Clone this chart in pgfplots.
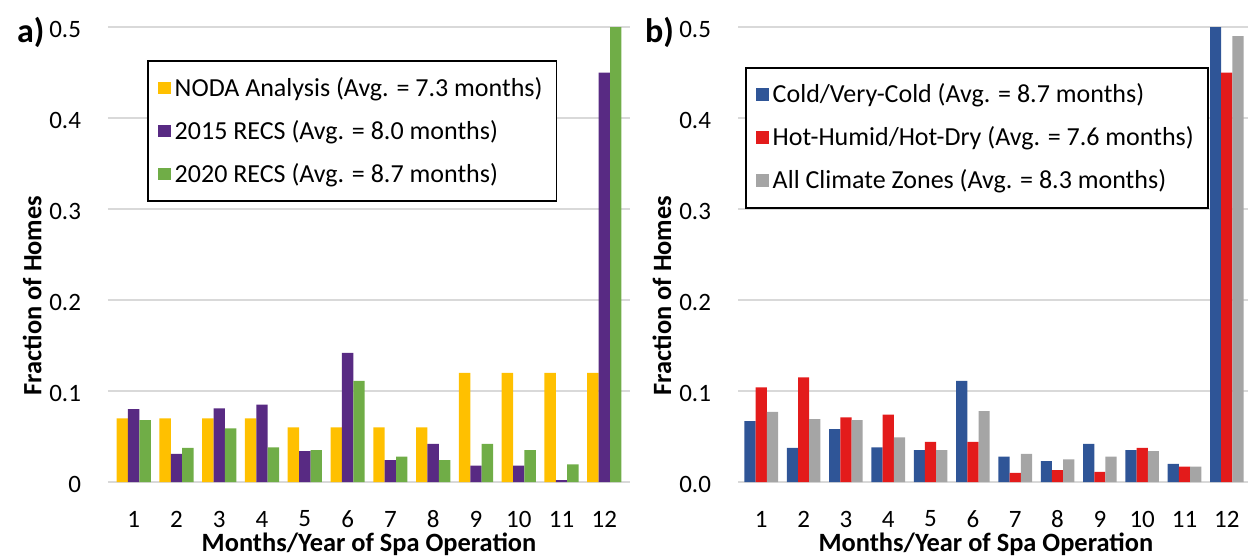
\documentclass[border=0pt]{standalone}
\usepackage{pgfplots}
\usepackage{pgfplotstable}
\pgfplotsset{compat=1.18}
\usepackage{fontspec}
\setmainfont{Carlito}
\definecolor{cY}{HTML}{FFC000}
\definecolor{cP}{HTML}{582A83}
\definecolor{cG}{HTML}{70AD47}
\definecolor{cB}{HTML}{2F5597}
\definecolor{cR}{HTML}{E31B1B}
\definecolor{cA}{HTML}{A5A5A5}
\definecolor{gridc}{HTML}{D9D9D9}

\pgfplotstableread{
m noda recs15 recs20
1 0.070 0.080 0.068
2 0.070 0.031 0.0375
3 0.070 0.081 0.059
4 0.070 0.085 0.038
5 0.060 0.034 0.035
6 0.060 0.142 0.111
7 0.060 0.024 0.028
8 0.060 0.042 0.024
9 0.120 0.018 0.042
10 0.120 0.018 0.035
11 0.120 0.002 0.0195
12 0.120 0.450 0.500
}\tabA

\pgfplotstableread{
m cold hot all
1 0.067 0.104 0.077
2 0.0375 0.115 0.069
3 0.058 0.071 0.068
4 0.038 0.074 0.049
5 0.035 0.044 0.035
6 0.111 0.044 0.078
7 0.028 0.010 0.031
8 0.023 0.013 0.025
9 0.042 0.011 0.028
10 0.035 0.0375 0.034
11 0.020 0.017 0.017
12 0.500 0.450 0.490
}\tabB

\pgfplotsset{
  every axis/.append style={
    scale only axis, height=227.5pt,
    ymin=0, ymax=0.5, clip=false,
    axis line style={draw=none},
    ytick={0,0.1,0.2,0.3,0.4,0.5},
    xtick={1,2,3,4,5,6,7,8,9,10,11,12},
    xticklabels={1,2,3,4,5,6,7,8,9,10,11,12},
    ymajorgrids, grid style={gridc, line width=0.9pt},
    major tick length=0pt,
    tick label style={font=\fontsize{12.5}{15}\selectfont},
    xticklabel style={anchor=center, yshift=-18.5pt, inner sep=0.5pt},
    yticklabel style={anchor=east, xshift=-10pt, yshift=-1pt},
    xlabel={Months/Year of Spa Operation},
    ylabel={Fraction of Homes},
    label style={font=\bfseries\fontsize{13.2}{16}\selectfont, inner sep=0pt},
    legend style={draw=black, line width=0.8pt, fill=white,
      font=\fontsize{13}{15}\selectfont, row sep=6.5pt,
      inner xsep=5pt, inner ysep=6pt, anchor=north west,
      cells={anchor=west}},
  }
}

\begin{document}
\begin{tikzpicture}
\useasboundingbox (0,0) rectangle (624pt,279pt);
\begin{axis}[
  at={(54pt,38pt)}, anchor=south west,
  width=261pt, xmin=0.4, xmax=12.6,
  ybar=0pt, bar width=5.7pt,
  legend image code/.code={\fill[#1] (0pt,-3.2pt) rectangle (6.4pt,3.2pt);},
  yticklabels={0,0.1,0.2,0.3,0.4,0.5},
  ylabel style={at={(axis description cs:-0.145,0.41)}, anchor=center},
  xlabel style={at={(axis description cs:0.5,-0.1538)}, anchor=base},
  legend style={at={(axis description cs:0.075,0.927)}},
]
\addplot[fill=cY, draw=none] table[x=m, y=noda] {\tabA};
\addlegendentry{NODA Analysis (Avg. = 7.3 months)}
\addplot[fill=cP, draw=none] table[x=m, y=recs15] {\tabA};
\addlegendentry{2015 RECS (Avg. = 8.0 months)}
\addplot[fill=cG, draw=none] table[x=m, y=recs20] {\tabA};
\addlegendentry{2020 RECS (Avg. = 8.7 months)}
\end{axis}
\begin{axis}[
  at={(369pt,38pt)}, anchor=south west,
  width=255pt, xmin=0.45, xmax=12.5,
  ybar=0pt, bar width=5.6pt,
  legend image code/.code={\fill[#1] (0pt,-3.2pt) rectangle (6.4pt,3.2pt);},
  yticklabels={0.0,0.1,0.2,0.3,0.4,0.5},
  ylabel style={at={(axis description cs:-0.149,0.41)}, anchor=center},
  xlabel style={at={(axis description cs:0.486,-0.1538)}, anchor=base},
  legend style={at={(axis description cs:0.014,0.912)}},
]
\addplot[fill=cB, draw=none] table[x=m, y=cold] {\tabB};
\addlegendentry{Cold/Very-Cold (Avg. = 8.7 months)}
\addplot[fill=cR, draw=none] table[x=m, y=hot] {\tabB};
\addlegendentry{Hot-Humid/Hot-Dry (Avg. = 7.6 months)}
\addplot[fill=cA, draw=none] table[x=m, y=all] {\tabB};
\addlegendentry{All Climate Zones (Avg. = 8.3 months)}
\end{axis}
\node[font=\bfseries\fontsize{17}{20}\selectfont, anchor=west] at (5pt,263pt) {a)};
\node[font=\bfseries\fontsize{17}{20}\selectfont, anchor=west] at (319pt,263pt) {b)};
\end{tikzpicture}
\end{document}
